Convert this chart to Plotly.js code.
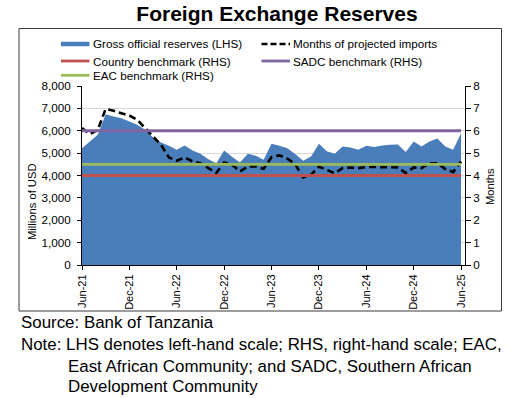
<!DOCTYPE html>
<html>
<head>
<meta charset="utf-8">
<script src="https://cdn.plot.ly/plotly-3.0.1.min.js"></script>
<style>
  html, body { margin: 0; padding: 0; background: #fff; }
  #chart { width: 532px; height: 398px; }
</style>
</head>
<body>
<div id="chart"></div>
<script>
// ---- Data ----
const months = [
  'Jun-21','Jul-21','Aug-21','Sep-21','Oct-21','Nov-21','Dec-21',
  'Jan-22','Feb-22','Mar-22','Apr-22','May-22','Jun-22','Jul-22','Aug-22','Sep-22','Oct-22','Nov-22','Dec-22',
  'Jan-23','Feb-23','Mar-23','Apr-23','May-23','Jun-23','Jul-23','Aug-23','Sep-23','Oct-23','Nov-23','Dec-23',
  'Jan-24','Feb-24','Mar-24','Apr-24','May-24','Jun-24','Jul-24','Aug-24','Sep-24','Oct-24','Nov-24','Dec-24',
  'Jan-25','Feb-25','Mar-25','Apr-25','May-25','Jun-25'
];
const tickLabels = ['Jun-21','Dec-21','Jun-22','Dec-22','Jun-23','Dec-23','Jun-24','Dec-24','Jun-25'];

// Gross official reserves, millions of USD (LHS)
const grossReserves = [
  5220, 5520, 5820, 6740, 6640, 6560, 6410,
  6270, 6040, 5700, 5480, 5330, 5150, 5340, 5120, 4970, 4730, 4550, 5120,
  4840, 4580, 4970, 4880, 4700, 5420, 5330, 5220, 4960, 4660, 4850, 5420,
  5080, 4970, 5300, 5250, 5150, 5330, 5270, 5340, 5370, 5390, 5050, 5520,
  5300, 5520, 5650, 5300, 5150, 5890
];
// Months of projected imports (RHS)
const importMonths = [
  6.12, 5.85, 6.04, 6.98, 6.89, 6.80, 6.68,
  6.49, 6.12, 5.74, 5.37, 4.81, 4.66, 4.81, 4.63, 4.55, 4.33, 4.11, 4.58,
  4.48, 4.18, 4.40, 4.40, 4.30, 4.82, 4.90, 4.75, 4.51, 3.91, 4.03, 4.40,
  4.26, 4.10, 4.33, 4.36, 4.33, 4.38, 4.38, 4.38, 4.38, 4.36, 4.11, 4.36,
  4.33, 4.55, 4.55, 4.29, 4.15, 4.63
];
// Benchmarks, months of imports (RHS)
const countryBenchmark = 4;
const sadcBenchmark = 6;
const eacBenchmark = 4.5;

const seriesNames = [
  'Gross official reserves (LHS)', 'Months of projected imports',
  'Country benchmark (RHS)', 'SADC benchmark (RHS)', 'EAC benchmark (RHS)'
];

// ---- Styling ----
const FONT = '"Liberation Sans", Arial, Helvetica, sans-serif';
const C_AREA = '#4A7EBB', C_RED = '#C0504D', C_PURPLE = '#8064A2', C_GREEN = '#9BBB59';

const L = 82, R = 465, T = 86, B = 265, WIDTH = 532, HEIGHT = 398;
const PW = R - L, PH = B - T;
const xp = p => (p - L) / PW;
const yp = p => (B - p) / PH;

const flat = v => months.map(() => v);

const traces = [
  { x: months, y: grossReserves, name: seriesNames[0], type: 'scatter', mode: 'none',
    fill: 'tozeroy', fillcolor: C_AREA, yaxis: 'y', showlegend: false, hoverinfo: 'skip' },
  { x: months, y: importMonths, name: seriesNames[1], type: 'scatter', mode: 'lines',
    line: { color: '#000', width: 2.6, dash: '7px,4px' }, yaxis: 'y2', showlegend: false },
  { x: months, y: flat(countryBenchmark), name: seriesNames[2], type: 'scatter', mode: 'lines',
    line: { color: C_RED, width: 2.8 }, yaxis: 'y2', showlegend: false },
  { x: months, y: flat(sadcBenchmark), name: seriesNames[3], type: 'scatter', mode: 'lines',
    line: { color: C_PURPLE, width: 2.8 }, yaxis: 'y2', showlegend: false },
  { x: months, y: flat(eacBenchmark), name: seriesNames[4], type: 'scatter', mode: 'lines',
    line: { color: C_GREEN, width: 2.8 }, yaxis: 'y2', showlegend: false }
];

// Manual legend (two columns, three rows)
const legendItems = [
  { name: seriesNames[0], color: C_AREA, width: 4.5, dash: 'solid', x: 61, y: 44 },
  { name: seriesNames[1], color: '#000', width: 2.6, dash: '6px,3px', x: 261.5, y: 44 },
  { name: seriesNames[2], color: C_RED, width: 2.8, dash: 'solid', x: 61, y: 61 },
  { name: seriesNames[3], color: C_PURPLE, width: 2.8, dash: 'solid', x: 261.5, y: 61 },
  { name: seriesNames[4], color: C_GREEN, width: 2.8, dash: 'solid', x: 61, y: 75.3 }
];

const shapes = [
  { type: 'rect', xref: 'paper', yref: 'paper', x0: xp(19), x1: xp(501.5), y0: yp(311), y1: yp(28.5),
    line: { color: '#3a3a3a', width: 1 }, fillcolor: 'rgba(0,0,0,0)', layer: 'below' }
];
const annotations = [];
legendItems.forEach(it => {
  shapes.push({ type: 'line', xref: 'paper', yref: 'paper',
    x0: xp(it.x), x1: xp(it.x + 28.5), y0: yp(it.y), y1: yp(it.y),
    line: { color: it.color, width: it.width, dash: it.dash } });
  annotations.push({ xref: 'paper', yref: 'paper', x: xp(it.x + 29.5), y: yp(it.y),
    xanchor: 'left', yanchor: 'middle', showarrow: false, text: it.name,
    font: { family: FONT, size: 11.7, color: '#000' } });
});

// Axis titles
annotations.push({ xref: 'paper', yref: 'paper', x: xp(32), y: yp(202), textangle: -90,
  xanchor: 'center', yanchor: 'middle', showarrow: false, text: 'Millions of USD',
  font: { family: FONT, size: 11.2, color: '#000' } });
annotations.push({ xref: 'paper', yref: 'paper', x: xp(490), y: yp(187), textangle: -90,
  xanchor: 'center', yanchor: 'middle', showarrow: false, text: 'Months',
  font: { family: FONT, size: 11.2, color: '#000' } });

// Footnotes
const notes = [
  { text: 'Source: Bank of Tanzania', x: 19, y: 322 },
  { text: 'Note: LHS denotes left-hand scale; RHS, right-hand scale; EAC,', x: 19, y: 344 },
  { text: 'East African Community; and SADC, Southern African', x: 66, y: 366 },
  { text: 'Development Community', x: 66, y: 387 }
];
notes.forEach(n => annotations.push({ xref: 'paper', yref: 'paper', x: xp(n.x), y: yp(n.y),
  xanchor: 'left', yanchor: 'middle', showarrow: false, text: n.text,
  font: { family: FONT, size: 16.9, color: '#000' } }));

const axisLine = { showline: true, linecolor: '#000', linewidth: 1, zeroline: false };

const layout = {
  width: WIDTH, height: HEIGHT,
  margin: { l: L, r: WIDTH - R, t: T, b: HEIGHT - B, pad: 0 },
  paper_bgcolor: '#fff', plot_bgcolor: '#fff',
  font: { family: FONT, color: '#000' },
  showlegend: false,
  title: { text: '<b>Foreign Exchange Reserves</b>', xref: 'container', yref: 'container',
    x: 277 / WIDTH, xanchor: 'center', y: 1 - 14 / HEIGHT, yanchor: 'middle',
    font: { family: FONT, size: 21, color: '#000' } },
  xaxis: Object.assign({}, axisLine, {
    type: 'category', range: [0, 48.5], tickmode: 'array', tickvals: tickLabels, ticktext: tickLabels,
    tickangle: -90, ticks: 'outside', ticklen: 4, tickcolor: '#000', showgrid: false,
    tickfont: { family: FONT, size: 11, color: '#000' } }),
  yaxis: Object.assign({}, axisLine, {
    range: [0, 8000], dtick: 1000, tickformat: ',d', ticks: 'outside', ticklen: 4, tickcolor: '#000',
    showgrid: true, gridcolor: '#D9D9D9', gridwidth: 1, ticklabelstandoff: 4,
    tickfont: { family: FONT, size: 11.7, color: '#000' } }),
  yaxis2: Object.assign({}, axisLine, {
    overlaying: 'y', side: 'right', range: [0, 8], dtick: 1, ticks: 'outside', ticklen: 5,
    tickcolor: '#000', showgrid: false, tickfont: { family: FONT, size: 11.7, color: '#000' } }),
  shapes: shapes,
  annotations: annotations
};

Plotly.newPlot('chart', traces, layout, { staticPlot: true, displayModeBar: false });
</script>
</body>
</html>
